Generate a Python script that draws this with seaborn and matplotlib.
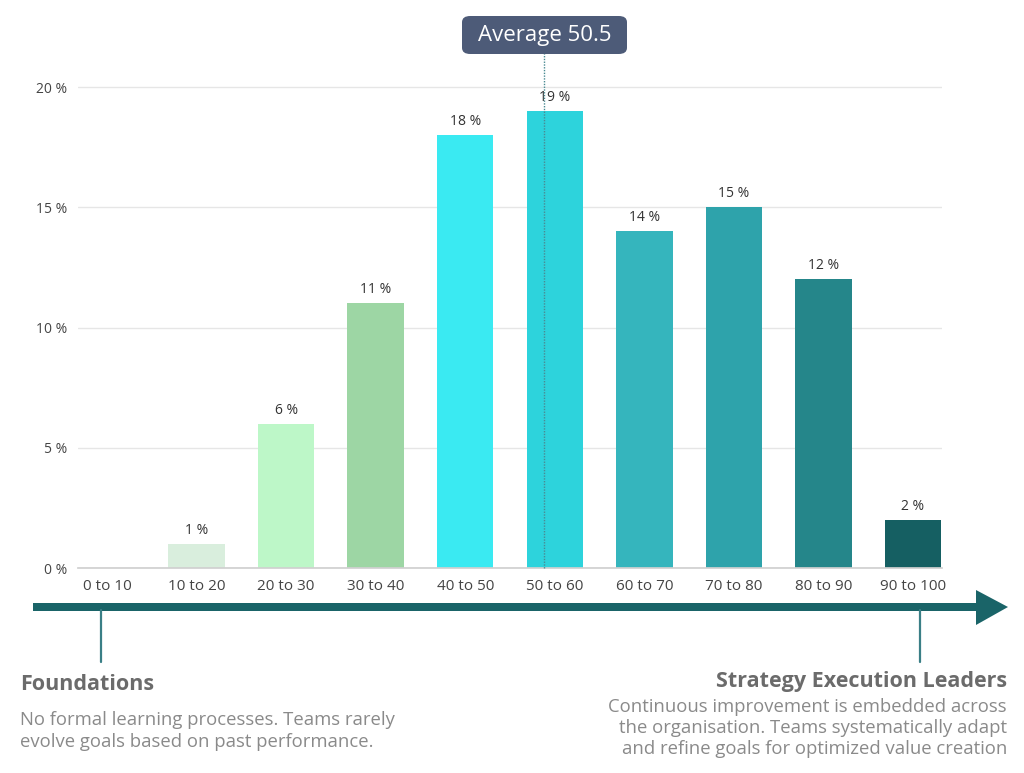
import matplotlib
matplotlib.use("Agg")
import matplotlib.pyplot as plt
import seaborn as sns
import pandas as pd
from matplotlib.patches import Rectangle, Polygon, FancyBboxPatch
from matplotlib.lines import Line2D

categories = ["0 to 10", "10 to 20", "20 to 30", "30 to 40", "40 to 50",
              "50 to 60", "60 to 70", "70 to 80", "80 to 90", "90 to 100"]
values = [0, 1, 6, 11, 18, 19, 14, 15, 12, 2]
bar_colors = ["#d9eedd", "#d9eedd", "#bdf7c8", "#9dd6a4", "#3aeaf2",
              "#2dd3dc", "#35b5bd", "#2ea3ab", "#25868a", "#155f62"]
y_ticks = [0, 5, 10, 15, 20]
average = 50.5
left_title = "Foundations"
left_desc = "No formal learning processes. Teams rarely\nevolve goals based on past performance."
right_title = "Strategy Execution Leaders"
right_desc = ("Continuous improvement is embedded across\n"
              "the organisation. Teams systematically adapt\n"
              "and refine goals for optimized value creation")

sns.set_theme(style="white")
plt.rcParams['font.family'] = ['Open Sans', 'DejaVu Sans']

W, H = 1024, 773
fig = plt.figure(figsize=(W / 100, H / 100), dpi=100)
ax = fig.add_axes([78 / W, (H - 568) / H, (942 - 78) / W, (568 - 75) / H])

df = pd.DataFrame({"cat": categories, "val": values})
sns.barplot(data=df, x="cat", y="val", hue="cat", palette=bar_colors,
            legend=False, width=0.63, ax=ax, zorder=3, linewidth=0,
            saturation=1)

ax.set_xlim(-0.324, 9.324)
ax.set_ylim(0, 20.5)
ax.set_yticks(y_ticks)
ax.set_yticklabels([f"{t} %" for t in y_ticks], fontsize=10, color="#444444")
ax.tick_params(axis="x", labelsize=11, colors="#444444", pad=8, length=0)
ax.tick_params(axis="y", pad=8, length=0)
ax.set_xlabel("")
ax.set_ylabel("")
ax.yaxis.grid(True, color="#e6e6e6", linewidth=1, zorder=0)
for s in ["top", "right", "left"]:
    ax.spines[s].set_visible(False)
ax.spines["bottom"].set_color("#d0d0d0")
ax.spines["bottom"].set_zorder(4)

for i, v in enumerate(values):
    if v > 0:
        ax.text(i, v + 0.25, f"{v} %", ha="center", va="bottom",
                fontsize=10, color="#333333", zorder=5)

# average marker
avg_pos = 4.88
ax.plot([avg_pos, avg_pos], [0, 22.5], color="#4a8a92", linestyle=(0, (1, 1)),
        linewidth=1, zorder=6, clip_on=False)
fig.add_artist(FancyBboxPatch((462 / W, (H - 54) / H), 165 / W, 38 / H,
                              boxstyle="round,pad=0,rounding_size=0.008",
                              facecolor="#4d5b78", edgecolor="none",
                              transform=fig.transFigure, zorder=7))
fig.text(544.5 / W, (H - 35) / H, f"Average {average}", ha="center", va="center",
         color="white", fontsize=16, zorder=8)

# progress arrow
teal = "#1a6468"
fig.add_artist(Rectangle((33 / W, (H - 611) / H), (978 - 33) / W, 8 / H,
                         facecolor=teal, edgecolor="none", transform=fig.transFigure))
fig.add_artist(Polygon([(976 / W, (H - 590) / H), (976 / W, (H - 625) / H),
                        (1008 / W, (H - 607) / H)], closed=True,
                       facecolor=teal, edgecolor="none", transform=fig.transFigure))
for xp in [101, 920]:
    fig.add_artist(Line2D([xp / W, xp / W], [(H - 610) / H, (H - 662) / H],
                          color="#3a7f86", linewidth=1.6, transform=fig.transFigure))

fig.text(20 / W, (H - 685) / H, left_title, ha="left", va="center",
         fontsize=15.5, fontweight="bold", color="#6b6b6b")
fig.text(20 / W, (H - 731) / H, left_desc, ha="left", va="center",
         fontsize=13.3, color="#8a8a8a", linespacing=1.35)
fig.text(1007 / W, (H - 681) / H, right_title, ha="right", va="center",
         fontsize=15.5, fontweight="bold", color="#6b6b6b")
fig.text(1007 / W, (H - 728) / H, right_desc, ha="right", va="center",
         fontsize=13.3, color="#8a8a8a", linespacing=1.25, multialignment="right")

fig.savefig("out.png", dpi=100, facecolor="white")
